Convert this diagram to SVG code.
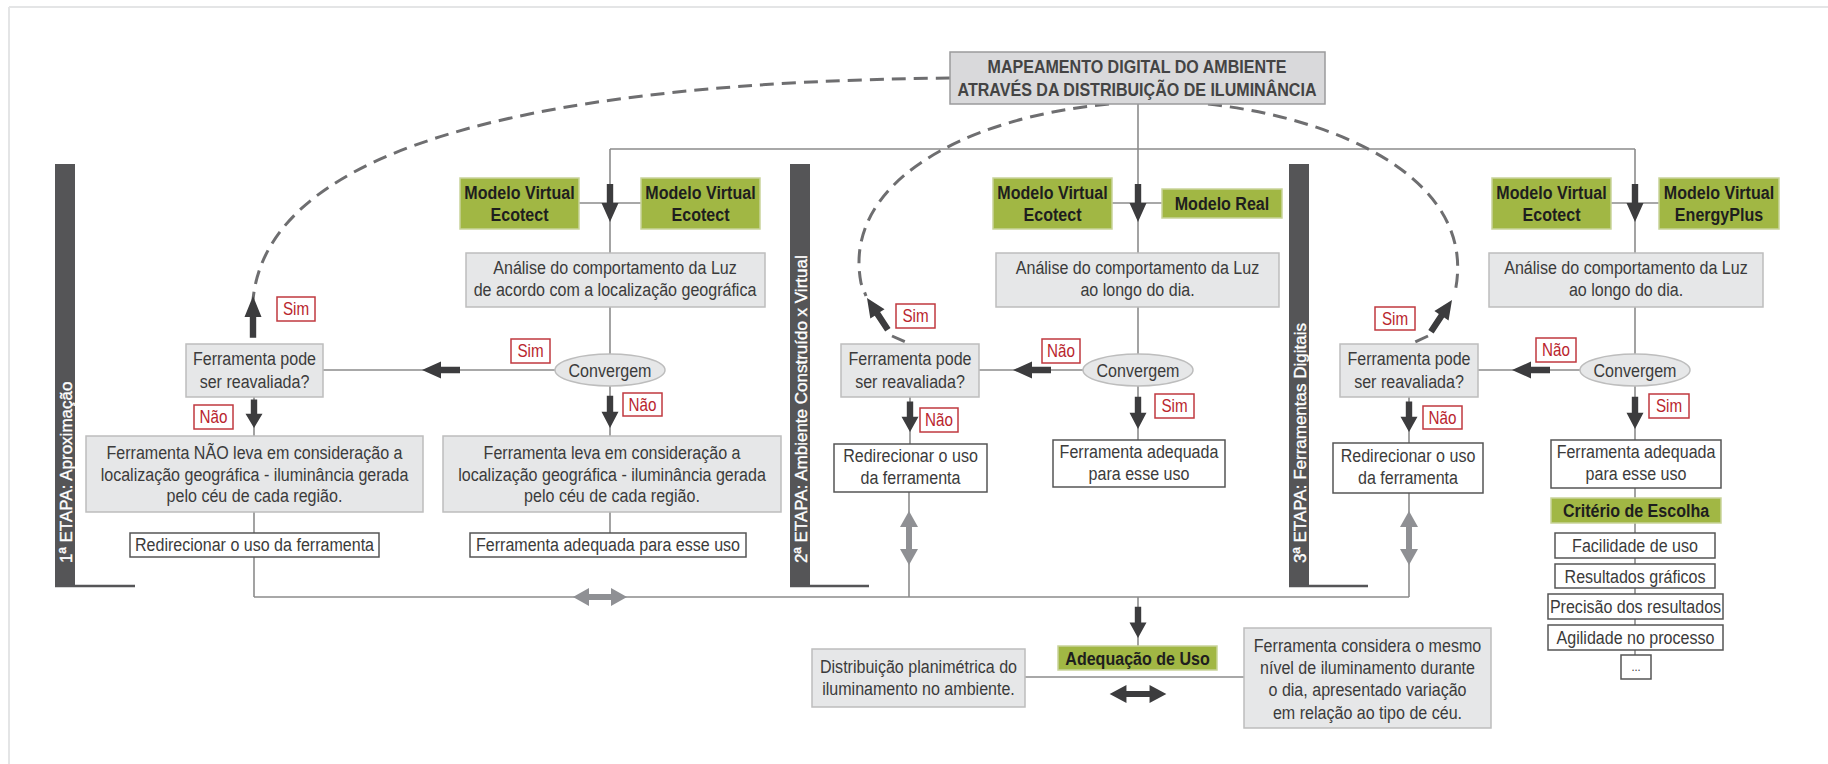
<svg xmlns="http://www.w3.org/2000/svg" width="1828" height="764" viewBox="0 0 1828 764">
<style>
.t{font-family:"Liberation Sans",Arial,sans-serif;font-size:19px;fill:#3b3b3b;text-anchor:middle;transform-box:fill-box;transform-origin:center;transform:scaleX(0.845)}
.b{font-weight:bold;fill:#1e1e1e}
.h{font-weight:bold;fill:#444}
.r{fill:#b9252d;font-size:18px}
.v{font-family:"Liberation Sans",Arial,sans-serif;font-size:17px;fill:#fff;stroke:#fff;stroke-width:0.35}
.g{fill:#e6e7e8;stroke:#bdbdbd;stroke-width:1.5}
.w{fill:#fff;stroke:#555;stroke-width:1.5}
.gr{fill:#a1b744;stroke:#c9d49a;stroke-width:1.5}
.lab{fill:#fff;stroke:#c0393f;stroke-width:1.5}
.bar{fill:#555557}
.ln{stroke:#8c8c8c;stroke-width:1.6;fill:none}
.ds{stroke:#6e6e70;stroke-width:3;fill:none;stroke-dasharray:14 8}
.ad{fill:#3c3c3e}
.ag{fill:#8f9094}
</style>
<defs>
<path id="arr" d="M-3.2,-38 H3.2 V-19 H8.5 L0,0 L-8.5,-19 H-3.2 Z"/>
<path id="dbl" d="M-27,0 L-11,-9 V-3 H11 V-9 L27,0 L11,9 V3 H-11 V9 Z"/>
</defs>

<g id="frame">
<line x1="9" y1="7" x2="1828" y2="7" stroke="#e4e5e6" stroke-width="2"/>
<line x1="9" y1="7" x2="9" y2="764" stroke="#e4e5e6" stroke-width="2"/>
</g>

<g id="connectors">
<path class="ln" d="M1138,104 V253 M610,149 H1635 M610,149 V253 M1635,149 V253"/>
<path class="ln" d="M579,203 H641 M1112,203 H1162 M1611,203 H1659"/>
<path class="ln" d="M610,307 V354 M610,386 V436 M610,512 V533 M323,370 H555 M254,397 V436 M254,512 V533 M254,557 V597"/>
<path class="ln" d="M1138,307 V354 M1138,386 V440 M979,370 H1083 M910,397 V444 M909,492 V597"/>
<path class="ln" d="M1635,307 V354 M1635,386 V440 M1478,370 H1580 M1409,397 V443 M1409,493 V597 M1635,488 V655"/>
<path class="ln" d="M254,597 H1409 M1138,597 V646 M1025,677 H1244"/>
<path class="ds" d="M950,78 C560,82 268,140 253,300"/>
<path class="ds" d="M1109,104 C960,118 842,185 861,283 L866,296"/>
<path class="ds" d="M892,336 L910,344"/>
<path class="ds" d="M1208,104 C1350,120 1478,185 1455,292"/>
<path class="ds" d="M1428,336 L1411,344"/>
<use href="#arr" class="ad" transform="translate(610,222)"/>
<use href="#arr" class="ad" transform="translate(1138,222)"/>
<use href="#arr" class="ad" transform="translate(1635,222)"/>
<use href="#arr" class="ad" transform="translate(610,428) scale(1,0.85)"/>
<use href="#arr" class="ad" transform="translate(254,428) scale(1,0.75)"/>
<use href="#arr" class="ad" transform="translate(1138,429) scale(1,0.85)"/>
<use href="#arr" class="ad" transform="translate(910,432) scale(1,0.8)"/>
<use href="#arr" class="ad" transform="translate(1635,429) scale(1,0.85)"/>
<use href="#arr" class="ad" transform="translate(1409,432) scale(1,0.8)"/>
<use href="#arr" class="ad" transform="translate(422,370) rotate(90)"/>
<use href="#arr" class="ad" transform="translate(1013,370) rotate(90)"/>
<use href="#arr" class="ad" transform="translate(1512,370) rotate(90)"/>
<use href="#arr" class="ad" transform="translate(253,296) rotate(180) scale(1,1.1)"/>
<use href="#arr" class="ad" transform="translate(867,298) rotate(146.7)"/>
<use href="#arr" class="ad" transform="translate(1452,300) rotate(-146.4)"/>
<use href="#arr" class="ad" transform="translate(1138,638) scale(1,0.82)"/>
<use href="#dbl" class="ag" transform="translate(600,597)"/>
<use href="#dbl" class="ag" transform="translate(909,538) rotate(90)"/>
<use href="#dbl" class="ag" transform="translate(1409,538) rotate(90)"/>
<use href="#dbl" class="ad" transform="translate(1138,694) scale(1.05,1)"/>
</g>

<g id="stage-bars">
<rect class="bar" x="55" y="164" width="20" height="422"/>
<line x1="55" y1="586" x2="135" y2="586" stroke="#555557" stroke-width="2.5"/>
<text class="v" transform="translate(72,563) rotate(-90)">1ª ETAPA: Aproximação</text>
<rect class="bar" x="790" y="164" width="20" height="422"/>
<line x1="790" y1="586" x2="869" y2="586" stroke="#555557" stroke-width="2.5"/>
<text class="v" transform="translate(807,563) rotate(-90)">2ª ETAPA: Ambiente Construído x Virtual</text>
<rect class="bar" x="1289" y="164" width="20" height="422"/>
<line x1="1289" y1="586" x2="1368" y2="586" stroke="#555557" stroke-width="2.5"/>
<text class="v" transform="translate(1306,563) rotate(-90)">3ª ETAPA: Ferramentas Digitais</text>
</g>

<g id="top">
<rect x="950" y="52" width="375" height="52" fill="#d9d9db" stroke="#9a9a9c" stroke-width="1.5"/>
<text class="t h" x="1137" y="73">MAPEAMENTO DIGITAL DO AMBIENTE</text>
<text class="t h" x="1137" y="96">ATRAVÉS DA DISTRIBUIÇÃO DE ILUMINÂNCIA</text>
</g>

<g id="s1-mv1"><rect class="gr" x="460" y="178" width="119" height="51"/><text class="t b" x="519.5" y="199">Modelo Virtual</text><text class="t b" x="519.5" y="221">Ecotect</text></g>
<g id="s1-mv2"><rect class="gr" x="641" y="178" width="119" height="51"/><text class="t b" x="700.5" y="199">Modelo Virtual</text><text class="t b" x="700.5" y="221">Ecotect</text></g>
<g id="s1-analise"><rect class="g" x="466" y="253" width="299" height="54"/><text class="t" x="615" y="274">Análise do comportamento da Luz</text><text class="t" x="615" y="296">de acordo com a localização geográfica</text></g>
<g id="s1-conv"><ellipse cx="610" cy="370" rx="55" ry="16" fill="#e6e7e8" stroke="#bdbdbd" stroke-width="1.5"/><text class="t" x="610" y="377">Convergem</text></g>
<g id="s1-sim1"><rect class="lab" x="511" y="339" width="39" height="24"/><text class="t r" x="530.5" y="357">Sim</text></g>
<g id="s1-nao1"><rect class="lab" x="623" y="393" width="39" height="23"/><text class="t r" x="642.5" y="411">Não</text></g>
<g id="s1-pode"><rect class="g" x="186" y="344" width="137" height="53"/><text class="t" x="254.5" y="365">Ferramenta pode</text><text class="t" x="254.5" y="388">ser reavaliada?</text></g>
<g id="s1-sim2"><rect class="lab" x="277" y="297" width="38" height="24"/><text class="t r" x="296" y="315">Sim</text></g>
<g id="s1-nao2"><rect class="lab" x="194" y="405" width="39" height="24"/><text class="t r" x="213.5" y="423">Não</text></g>
<g id="s1-nao-box"><rect class="g" x="86" y="436" width="337" height="76"/><text class="t" x="254.5" y="459">Ferramenta NÃO leva em consideração a</text><text class="t" x="254.5" y="481">localização geográfica - iluminância gerada</text><text class="t" x="254.5" y="502">pelo céu de cada região.</text></g>
<g id="s1-leva-box"><rect class="g" x="443" y="436" width="338" height="76"/><text class="t" x="612" y="459">Ferramenta leva em consideração a</text><text class="t" x="612" y="481">localização geográfica - iluminância gerada</text><text class="t" x="612" y="502">pelo céu de cada região.</text></g>
<g id="s1-redir"><rect class="w" x="130" y="533" width="249" height="24"/><text class="t" x="254.5" y="551">Redirecionar o uso da ferramenta</text></g>
<g id="s1-adeq"><rect class="w" x="470" y="533" width="276" height="24"/><text class="t" x="608" y="551">Ferramenta adequada para esse uso</text></g>

<g id="s2-mv"><rect class="gr" x="993" y="178" width="119" height="51"/><text class="t b" x="1052.5" y="199">Modelo Virtual</text><text class="t b" x="1052.5" y="221">Ecotect</text></g>
<g id="s2-real"><rect class="gr" x="1162" y="189" width="120" height="29"/><text class="t b" x="1222" y="210">Modelo Real</text></g>
<g id="s2-analise"><rect class="g" x="996" y="253" width="283" height="54"/><text class="t" x="1137.5" y="274">Análise do comportamento da Luz</text><text class="t" x="1137.5" y="296">ao longo do dia.</text></g>
<g id="s2-conv"><ellipse cx="1138" cy="370" rx="55" ry="16" fill="#e6e7e8" stroke="#bdbdbd" stroke-width="1.5"/><text class="t" x="1138" y="377">Convergem</text></g>
<g id="s2-nao1"><rect class="lab" x="1042" y="339" width="38" height="24"/><text class="t r" x="1061" y="357">Não</text></g>
<g id="s2-sim1"><rect class="lab" x="1155" y="394" width="39" height="24"/><text class="t r" x="1174.5" y="412">Sim</text></g>
<g id="s2-pode"><rect class="g" x="841" y="344" width="138" height="53"/><text class="t" x="910" y="365">Ferramenta pode</text><text class="t" x="910" y="388">ser reavaliada?</text></g>
<g id="s2-sim2"><rect class="lab" x="896" y="304" width="39" height="24"/><text class="t r" x="915.5" y="322">Sim</text></g>
<g id="s2-nao2"><rect class="lab" x="920" y="408" width="38" height="24"/><text class="t r" x="939" y="426">Não</text></g>
<g id="s2-redir"><rect class="w" x="834" y="444" width="153" height="48"/><text class="t" x="910.5" y="462">Redirecionar o uso</text><text class="t" x="910.5" y="484">da ferramenta</text></g>
<g id="s2-adeq"><rect class="w" x="1053" y="440" width="172" height="47"/><text class="t" x="1139" y="458">Ferramenta adequada</text><text class="t" x="1139" y="480">para esse uso</text></g>

<g id="s3-mv1"><rect class="gr" x="1492" y="178" width="119" height="51"/><text class="t b" x="1551.5" y="199">Modelo Virtual</text><text class="t b" x="1551.5" y="221">Ecotect</text></g>
<g id="s3-mv2"><rect class="gr" x="1659" y="178" width="120" height="51"/><text class="t b" x="1719" y="199">Modelo Virtual</text><text class="t b" x="1719" y="221">EnergyPlus</text></g>
<g id="s3-analise"><rect class="g" x="1489" y="253" width="274" height="54"/><text class="t" x="1626" y="274">Análise do comportamento da Luz</text><text class="t" x="1626" y="296">ao longo do dia.</text></g>
<g id="s3-conv"><ellipse cx="1635" cy="370" rx="55" ry="16" fill="#e6e7e8" stroke="#bdbdbd" stroke-width="1.5"/><text class="t" x="1635" y="377">Convergem</text></g>
<g id="s3-nao1"><rect class="lab" x="1536" y="338" width="40" height="24"/><text class="t r" x="1556" y="356">Não</text></g>
<g id="s3-sim1"><rect class="lab" x="1649" y="394" width="40" height="24"/><text class="t r" x="1669" y="412">Sim</text></g>
<g id="s3-pode"><rect class="g" x="1340" y="344" width="138" height="53"/><text class="t" x="1409" y="365">Ferramenta pode</text><text class="t" x="1409" y="388">ser reavaliada?</text></g>
<g id="s3-sim2"><rect class="lab" x="1375" y="307" width="40" height="23"/><text class="t r" x="1395" y="325">Sim</text></g>
<g id="s3-nao2"><rect class="lab" x="1423" y="406" width="39" height="23"/><text class="t r" x="1442.5" y="424">Não</text></g>
<g id="s3-redir"><rect class="w" x="1333" y="443" width="150" height="50"/><text class="t" x="1408" y="462">Redirecionar o uso</text><text class="t" x="1408" y="484">da ferramenta</text></g>
<g id="s3-adeq"><rect class="w" x="1551" y="440" width="170" height="48"/><text class="t" x="1636" y="458">Ferramenta adequada</text><text class="t" x="1636" y="480">para esse uso</text></g>
<g id="s3-criterio"><rect class="gr" x="1551" y="498" width="170" height="25"/><text class="t b" x="1636" y="517">Critério de Escolha</text></g>
<g id="s3-c1"><rect class="w" x="1555" y="533" width="160" height="25"/><text class="t" x="1635" y="552">Facilidade de uso</text></g>
<g id="s3-c2"><rect class="w" x="1555" y="564" width="160" height="24"/><text class="t" x="1635" y="583">Resultados gráficos</text></g>
<g id="s3-c3"><rect class="w" x="1548" y="594" width="175" height="25"/><text class="t" x="1635.5" y="613">Precisão dos resultados</text></g>
<g id="s3-c4"><rect class="w" x="1548" y="625" width="175" height="25"/><text class="t" x="1635.5" y="644">Agilidade no processo</text></g>
<g id="s3-c5"><rect class="w" x="1621" y="655" width="30" height="24"/><text class="t" x="1636" y="671" style="font-size:13px">...</text></g>

<g id="adequacao"><rect class="gr" x="1058" y="646" width="159" height="24"/><text class="t b" x="1137.5" y="665">Adequação de Uso</text></g>
<g id="distribuicao"><rect class="g" x="812" y="649" width="213" height="58"/><text class="t" x="918.5" y="673">Distribuição planimétrica do</text><text class="t" x="918.5" y="695">iluminamento no ambiente.</text></g>
<g id="considera"><rect class="g" x="1244" y="628" width="247" height="100"/><text class="t" x="1367.5" y="652">Ferramenta considera o mesmo</text><text class="t" x="1367.5" y="674">nível de iluminamento durante</text><text class="t" x="1367.5" y="696">o dia, apresentado variação</text><text class="t" x="1367.5" y="719">em relação ao tipo de céu.</text></g>
</svg>
